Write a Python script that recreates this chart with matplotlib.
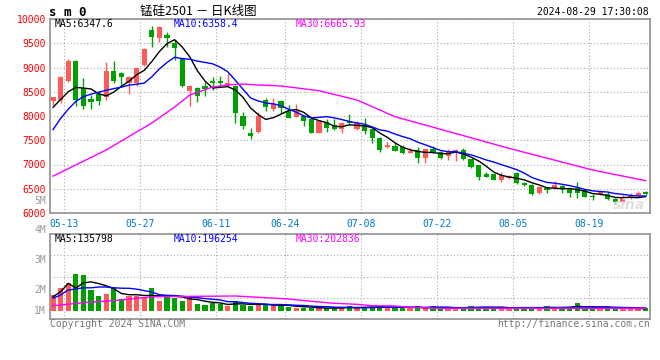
import matplotlib
matplotlib.use("Agg")
import matplotlib.pyplot as plt
import pandas as pd

# trading days shown (05-10 .. 08-29)
dates = ["05-10",
         "05-13", "05-14", "05-15", "05-16", "05-17", "05-20", "05-21", "05-22", "05-23", "05-24",
         "05-27", "05-28", "05-29", "05-30", "05-31", "06-03", "06-04", "06-05", "06-06", "06-07",
         "06-11", "06-12", "06-13", "06-14", "06-17", "06-18", "06-19", "06-20", "06-21",
         "06-24", "06-25", "06-26", "06-27", "06-28", "07-01", "07-02", "07-03", "07-04", "07-05",
         "07-08", "07-09", "07-10", "07-11", "07-12", "07-15", "07-16", "07-17", "07-18", "07-19",
         "07-22", "07-23", "07-24", "07-25", "07-26", "07-29", "07-30", "07-31", "08-01", "08-02",
         "08-05", "08-06", "08-07", "08-08", "08-09", "08-12", "08-13", "08-14", "08-15", "08-16",
         "08-19", "08-20", "08-21", "08-22", "08-23", "08-26", "08-27", "08-28", "08-29"]

opens = [8309, 8330, 8722, 9140, 8571, 8344, 8454, 8398, 8934, 8893,
         8674, 8674, 9052, 9773, 9602, 9670, 9500, 9190, 8516, 8584,
         8619, 8722, 8720, 8633, 8619, 8000, 7656, 7676, 8330, 8144,
         8309, 8110, 7986, 8000, 7932, 7656, 7883, 7815, 7726, 7897,
         7726, 7815, 7726, 7553, 7355, 7381, 7355, 7243, 7299, 7127,
         7313, 7252, 7175, 7270, 7299, 7107, 6980, 6808, 6794, 6680,
         6728, 6818, 6625, 6577, 6419, 6509, 6509, 6557, 6495, 6509,
         6474, 6350, 6392, 6392, 6289, 6233, 6323, 6371, 6440]
highs = [8400, 8830, 9169, 9155, 8778, 8433, 8522, 9120, 9140, 8900,
         8820, 9017, 9396, 9856, 9850, 9740, 9560, 9220, 8630, 8600,
         8707, 8811, 8825, 8881, 8630, 8089, 7746, 8090, 8365, 8378,
         8330, 8227, 8240, 8010, 7950, 7910, 7932, 7932, 7883, 8041,
         7897, 7966, 7740, 7560, 7470, 7437, 7402, 7340, 7355, 7320,
         7381, 7270, 7313, 7320, 7334, 7120, 6990, 6852, 6820, 6839,
         6790, 6839, 6640, 6590, 6560, 6540, 6666, 6577, 6520, 6645,
         6490, 6392, 6460, 6440, 6300, 6371, 6406, 6460, 6460]
lows = [8227, 8268, 8700, 8206, 8138, 8138, 8227, 8330, 8687, 8639,
        8454, 8625, 9040, 9429, 9520, 9429, 9150, 8600, 8206, 8295,
        8419, 8536, 8600, 8620, 7850, 7726, 7526, 7650, 8110, 8110,
        8068, 7950, 7980, 7794, 7640, 7643, 7676, 7720, 7656, 7815,
        7712, 7629, 7437, 7264, 7340, 7280, 7210, 7230, 7025, 7037,
        7231, 7107, 7093, 7080, 7090, 6930, 6680, 6736, 6680, 6645,
        6700, 6598, 6557, 6378, 6392, 6406, 6490, 6419, 6323, 6303,
        6320, 6268, 6380, 6260, 6185, 6210, 6290, 6330, 6380]
closes = [8386, 8811, 9140, 8330, 8213, 8295, 8309, 8928, 8722, 8811,
          8811, 8983, 9376, 9635, 9842, 9615, 9400, 8619, 8619, 8412,
          8550, 8687, 8690, 8687, 8068, 7794, 7594, 8000, 8192, 8247,
          8158, 7966, 8103, 7903, 7656, 7897, 7759, 7732, 7850, 7850,
          7850, 7697, 7553, 7299, 7402, 7285, 7243, 7285, 7127, 7313,
          7264, 7128, 7285, 7300, 7107, 6942, 6739, 6740, 6690, 6780,
          6763, 6612, 6577, 6392, 6543, 6474, 6577, 6509, 6419, 6419,
          6336, 6323, 6440, 6282, 6220, 6323, 6350, 6406, 6392]
volumes = [800000, 1165000, 1415000, 1850000, 1800000, 1050000, 750000, 850000, 1135000, 585000,
           750000, 750000, 665000, 1135000, 500000, 715000, 665000, 500000, 635000, 350000,
           300000, 385000, 350000, 250000, 500000, 300000, 250000, 350000, 300000, 250000,
           300000, 215000, 135000, 165000, 165000, 135000, 135000, 135000, 200000, 250000,
           135000, 200000, 200000, 250000, 250000, 135000, 135000, 135000, 250000, 135000,
           250000, 135000, 135000, 135000, 185000, 250000, 185000, 185000, 135000, 185000,
           135000, 135000, 185000, 135000, 185000, 250000, 135000, 185000, 185000, 415000,
           135000, 135000, 135000, 185000, 135000, 100000, 100000, 100000, 135000]

# moving averages whose window reaches before the first day
ma5_head = [8180, 8340, 8500, 8590]
ma10_head = [7720, 7950, 8140, 8300, 8400, 8450, 8490, 8530, 8565]
ma30_idx = [0, 7, 13, 16, 18, 21, 23, 25, 27, 30, 35, 40, 45, 51, 60, 71, 78]
ma30_val = [6760, 7299, 7856, 8186, 8433, 8598, 8639, 8660, 8639, 8619,
            8522, 8330, 7986, 7726, 7334, 6887, 6666]
vma5_head = [715000, 965000, 1380000, 1150000]
vma10_head = [635000, 800000, 1050000, 1100000, 1160000, 1160000, 1200000, 1200000, 1160000]
vma30_idx = [0, 4, 9, 13, 24, 31, 36, 37, 40, 42, 45, 47, 51, 78]
vma30_val = [265000, 415000, 550000, 715000, 750000, 600000, 415000, 385000, 335000,
             265000, 250000, 185000, 135000, 135000]

date_ticks = ["05-13", "05-27", "06-11", "06-24", "07-08", "07-22", "08-05", "08-19"]
price_ticks = [6000, 6500, 7000, 7500, 8000, 8500, 9000, 9500, 10000]
vol_labels = ["1M", "2M", "3M", "4M", "5M"]
vol_label_pos = [0, 1050000, 2550000, 4050000, 5500000]

RED = "#ff5a5a"
GREEN = "#00a000"
GRID = "#aaaaaa"
FRAME = "#999999"
MONO = "DejaVu Sans Mono"

n = len(closes)
x = list(range(n))

ma5 = pd.Series(closes).rolling(5).mean().tolist()
ma5[:4] = ma5_head
ma10 = pd.Series(closes).rolling(10).mean().tolist()
ma10[:9] = ma10_head
vma5 = pd.Series(volumes).rolling(5).mean().tolist()
vma5[:4] = vma5_head
vma10 = pd.Series(volumes).rolling(10).mean().tolist()
vma10[:9] = vma10_head

W, H = 660, 360
fig = plt.figure(figsize=(6.6, 3.6), dpi=100)
ax = fig.add_axes([50 / W, 1 - 213 / H, 599.5 / W, 194 / H])
axv = fig.add_axes([50 / W, 1 - 319 / H, 599.5 / W, 85 / H])

# candles
for i in x:
    up = closes[i] >= opens[i]
    c = RED if up else GREEN
    lo, hi = min(opens[i], closes[i]), max(opens[i], closes[i])
    ax.vlines(i, lows[i], highs[i], color=c, lw=1)
    ax.bar(i, max(hi - lo, 12), bottom=lo, width=0.68, color=c, lw=0)
    axv.bar(i, volumes[i], width=0.7, color=c, lw=0)

ax.plot(x, ma5, color="black", lw=1)
ax.plot(x, ma10, color="#0000ff", lw=1)
ax.plot(ma30_idx, ma30_val, color="#ff00ff", lw=1)
axv.plot(x, vma5, color="black", lw=1)
axv.plot(x, vma10, color="#0000ff", lw=1)
axv.plot(vma30_idx, vma30_val, color="#ff00ff", lw=1)

xt = [dates.index(d) + 0.5 for d in date_ticks]
for a in (ax, axv):
    a.set_xlim(-0.4, n - 0.5)
    a.set_xticks(xt)
    a.grid(True, color=GRID, ls=(0, (1, 2)), lw=0.8)
    a.set_axisbelow(True)
    for s in a.spines.values():
        s.set_color(FRAME)
        s.set_linewidth(1.3)
    a.tick_params(length=0)

ax.set_ylim(6000, 10000)
ax.set_yticks(price_ticks)
ax.set_yticklabels([str(p) for p in price_ticks], color="#ff0000", family=MONO, fontsize=7)
ax.tick_params(axis="y", pad=3)
ax.set_xticklabels(date_ticks, color="#0077cc", family=MONO, fontsize=7)
ax.tick_params(axis="x", pad=4)

# volume panel
vscale = 50000
axv.set_ylim(-8 * vscale, 77 * vscale)
y0, y1 = axv.get_ylim()
axv.set_yticks([y0 + f * (y1 - y0) for f in (0.25, 0.5, 0.75)])
axv.set_yticklabels([])
axv.set_xticklabels([])
for lab, v in zip(vol_labels, vol_label_pos):
    axv.text(-0.007, v, lab, transform=axv.get_yaxis_transform(), ha="right", va="center",
             color="#999999", family=MONO, fontsize=7, clip_on=False)

# legends
ax.text(0.008, 0.972, "MA5:6347.6", transform=ax.transAxes, color="black", family=MONO, fontsize=7, va="center")
ax.text(0.207, 0.972, "MA10:6358.4", transform=ax.transAxes, color="#0000ff", family=MONO, fontsize=7, va="center")
ax.text(0.409, 0.972, "MA30:6665.93", transform=ax.transAxes, color="#ff00ff", family=MONO, fontsize=7, va="center")
axv.text(0.008, 0.94, "MA5:135798", transform=axv.transAxes, color="black", family=MONO, fontsize=7, va="center")
axv.text(0.207, 0.94, "MA10:196254", transform=axv.transAxes, color="#0000ff", family=MONO, fontsize=7, va="center")
axv.text(0.409, 0.94, "MA30:202836", transform=axv.transAxes, color="#ff00ff", family=MONO, fontsize=7, va="center")

ax.text(0.965, 0.04, "sina", transform=ax.transAxes, color="#d8d8d8", fontsize=10,
        style="italic", weight="bold", ha="center", va="center", alpha=0.8)

# header / footer
fig.text(49 / W, 1 - 12 / H, "s m 0", family=MONO, weight="bold", fontsize=9, va="center")
fig.text(140 / W, 1 - 11 / H, "锰硅2501 － 日K线图", family=["Noto Sans CJK SC", "DejaVu Sans"],
         fontsize=9, va="center")
fig.text(649 / W, 1 - 12 / H, "2024-08-29 17:30:08", family=MONO, fontsize=7, ha="right", va="center")
fig.text(50 / W, 1 - 324 / H, "Copyright 2024 SINA.COM", family=MONO, fontsize=7, color="#777777", va="center")
fig.text(650 / W, 1 - 324 / H, "http://finance.sina.com.cn", family=MONO, fontsize=7, color="#777777",
         ha="right", va="center")

fig.savefig("out.png", dpi=100)
